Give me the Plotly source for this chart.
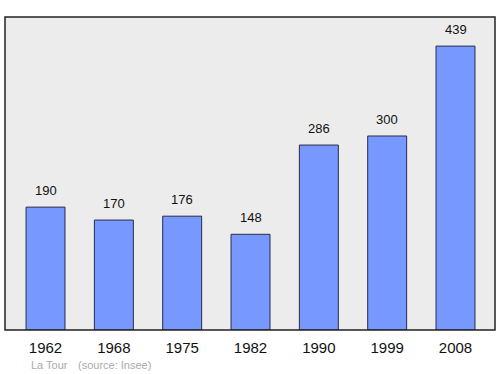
import plotly.graph_objects as go

years = ["1962", "1968", "1975", "1982", "1990", "1999", "2008"]
population = [190, 170, 176, 148, 286, 300, 439]

fig = go.Figure()
fig.add_trace(go.Bar(
    x=list(range(len(years))), y=population, width=0.57,
    marker=dict(color="#7799ff", line=dict(color="#2a2a4a", width=1)),
    hoverinfo="skip",
))
for i, v in enumerate(population):
    fig.add_annotation(x=i, y=v, text=str(v), showarrow=False, yanchor="bottom",
                       yshift=7, font=dict(size=13, color="#111", family="Liberation Sans"))

fig.add_annotation(xref="paper", yref="paper", x=0.048, y=-0.112, text="La Tour", showarrow=False,
                   xanchor="left", yanchor="middle", font=dict(size=11, color="#aaaaaa", family="Liberation Sans"))
fig.add_annotation(xref="paper", yref="paper", x=0.144, y=-0.112, text="(source: Insee)", showarrow=False,
                   xanchor="left", yanchor="middle", font=dict(size=11, color="#aaaaaa", family="Liberation Sans"))

fig.update_xaxes(range=[-0.593, 6.578], tickvals=list(range(len(years))), ticktext=years,
                 showgrid=False, zeroline=False, ticks="", showline=False, ticklabelstandoff=7,
                 tickfont=dict(size=15, color="#111", family="Liberation Sans"))
fig.update_yaxes(range=[0, 484], showgrid=False, zeroline=False, showticklabels=False, showline=False)
fig.add_shape(type="rect", xref="paper", yref="paper", x0=0, y0=0, x1=1, y1=1,
              line=dict(color="#222", width=1.5), layer="above")
fig.update_layout(width=500, height=374, margin=dict(l=5, r=5, t=17, b=44),
                  plot_bgcolor="#ececec", paper_bgcolor="white", showlegend=False)
fig.write_html("out.html")
